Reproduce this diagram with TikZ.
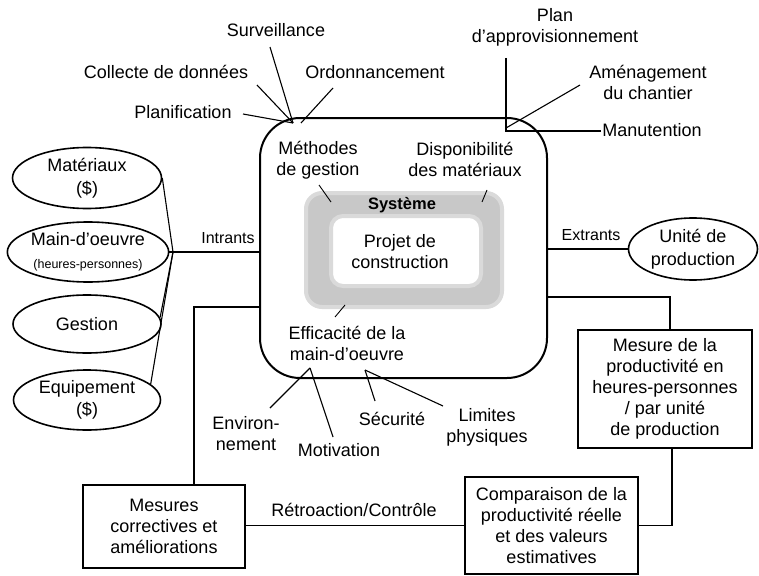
\documentclass[tikz,border=0pt]{standalone}
\usepackage{fontspec}
\setmainfont{Liberation Sans}
\usetikzlibrary{shapes.geometric,calc}
\definecolor{sysgray}{RGB}{200,200,200}
\definecolor{softgray}{RGB}{218,218,218}
\begin{document}
\begin{tikzpicture}[x=1pt,y=-1pt,
  lbl/.style={font=\fontsize{18}{21}\selectfont, align=center, inner sep=1pt},
  lblsm/.style={font=\fontsize{16}{19}\selectfont, inner sep=1pt},
  ell/.style={draw, ellipse, line width=1.6pt, inner sep=0pt, font=\fontsize{18}{22.5}\selectfont, align=center},
  boxn/.style={draw, line width=1.5pt, inner sep=0pt, font=\fontsize{18}{21}\selectfont, align=center},
  conn/.style={line width=1.1pt},
  ptr/.style={line width=0.9pt},
]
\useasboundingbox (0,0) rectangle (759,575);

% main system box
\node[draw, line width=2pt, rounded corners=40pt, minimum width=287pt, minimum height=260pt] (sys) at (403.5,248) {};

% gray frame (soft edges)
\node[fill=sysgray, draw=softgray, line width=4pt, rounded corners=16pt, minimum width=196pt, minimum height=114pt, inner sep=0pt] (frame) at (404,250) {};
\node[fill=white, draw=softgray, line width=4pt, rounded corners=12pt, minimum width=150pt, minimum height=70pt, inner sep=0pt] (inner) at (406,251) {};
\node[fill=white, rounded corners=10pt, minimum width=144pt, minimum height=64pt, inner sep=0pt] (innerc) at (406,251) {};
\node[font=\fontsize{16.5}{19}\selectfont\bfseries, inner sep=0pt] (systxt) at (402,205) {Système};
\node[lbl] (projet) at (400,252) {Projet de\\construction};

% inner labels
\node[lbl] (meth) at (318,160) {Méthodes\\de gestion};
\node[lbl] (disp) at (465,159) {Disponibilité\\des matériaux};
\node[lbl] (eff) at (347,343) {Efficacité de la\\main-d'oeuvre};
\coordinate (m1) at (319,185); \coordinate (m2) at (331,202);
\coordinate (d1) at (487,190); \coordinate (d2) at (482,202);
\coordinate (e1) at (335,317); \coordinate (e2) at (345,305);
\draw[ptr] (m1) -- (m2);
\draw[ptr] (d1) -- (d2);
\draw[ptr] (e1) -- (e2);

% top-left fan
\node[lbl] (surv) at (276,30) {Surveillance};
\node[lbl] (coll) at (166,72) {Collecte de données};
\node[lbl] (ord) at (375,72) {Ordonnancement};
\node[lbl] (plan) at (183,112) {Planification};
\coordinate (p1) at (293,123);
\coordinate (p1b) at (301,123);
\coordinate (sv) at (270,47);
\coordinate (cl) at (257,85);
\coordinate (od) at (333,88);
\coordinate (pl) at (243,114);
\draw[conn] (sv) -- (p1);
\draw[conn] (cl) -- (p1);
\draw[conn] (od) -- (p1b);
\draw[conn] (pl) -- (p1);

% top-right fan
\node[lbl] (appro) at (555,27.5) {Plan\\d'approvisionnement};
\node[lbl] (amen) at (648,82.5) {Aménagement\\du chantier};
\node[lbl] (manu) at (652,130) {Manutention};
\coordinate (p2) at (506,131);
\coordinate (ap) at (506,58);
\coordinate (am) at (580,85);
\coordinate (p2b) at (506,128);
\draw[conn] (ap) -- (p2) -- (p2 -| manu.west);
\draw[conn] (am) -- (p2b);

% inputs
\node[ell, minimum width=149pt, minimum height=61pt] (mat) at (87,178) {Matériaux\\(\$)};
\node[ell, minimum width=150pt, minimum height=60pt] (mdo) at (88,252) {Main-d'oeuvre\\{\fontsize{12.5}{15}\selectfont (heures-personnes)}};
\node[ell, minimum width=148pt, minimum height=58pt] (ges) at (87,324) {Gestion};
\node[ell, minimum width=147pt, minimum height=60pt] (equ) at (87,400) {Equipement\\(\$)};
\coordinate (conv) at (173,252);
\draw[conn] (mat.east) -- (conv);
\draw[conn] (mdo.east) -- (conv);
\draw[conn] (ges.5) -- (conv);
\draw[conn] (equ.14) -- (conv);
\draw[conn] (conv) -- (conv -| sys.west);
\node[lblsm] (intr) at (228,238) {Intrants};

% outputs
\node[ell, minimum width=129pt, minimum height=62pt] (unit) at (693,249) {Unité de\\production};
\draw[conn] (unit.west -| sys.east) -- (unit.west);
\node[lblsm] (extr) at (591,235) {Extrants};

% measurement loop
\node[boxn, minimum width=174pt, minimum height=118pt] (mes) at (665,389) {Mesure de la\\productivité en\\heures-personnes\\/ par unité\\de production};
\coordinate (c1) at (670,297);
\draw[conn] (c1 -| sys.east) -- (c1) -- (c1 |- mes.north);

\node[boxn, minimum width=173pt, minimum height=97pt] (comp) at (551.5,525.5) {Comparaison de la\\productivité réelle\\et des valeurs\\estimatives};
\coordinate (c2) at (672,525.5);
\draw[conn] (c2 |- mes.south) -- (c2) -- (comp.east);

\node[boxn, minimum width=162pt, minimum height=83pt] (cor) at (164,526.5) {Mesures\\correctives et\\améliorations};
\draw[conn] (comp.west) -- (comp.west -| cor.east);
\node[lbl] (retro) at (354,510) {Rétroaction/Contrôle};

\coordinate (c3) at (194,307);
\draw[conn] (c3 |- cor.north) -- (c3) -- (c3 -| sys.west);

% bottom fan
\coordinate (p3) at (310,368);
\coordinate (p4) at (365,370);
\coordinate (en) at (270,408);
\coordinate (mo) at (333,437);
\coordinate (se) at (375,401);
\coordinate (li) at (443,406);
\draw[conn] (p3) -- (en);
\draw[conn] (p3) -- (mo);
\draw[conn] (p4) -- (se);
\draw[conn] (p4) -- (li);
\node[lbl] (env) at (246,434) {Environ-\\nement};
\node[lbl] (mot) at (339,450) {Motivation};
\node[lbl] (sec) at (392,419) {Sécurité};
\node[lbl] (lim) at (487,427) {Limites\\physiques};
\end{tikzpicture}
\end{document}
